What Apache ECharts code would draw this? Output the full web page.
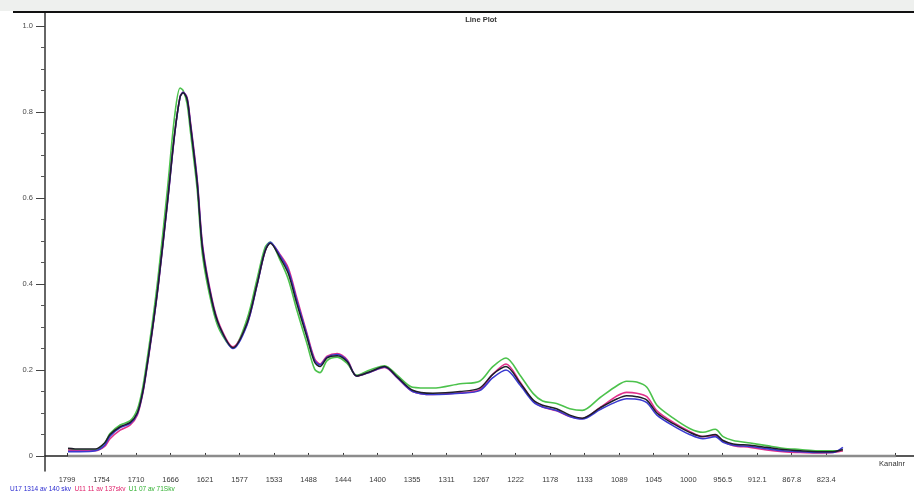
<!DOCTYPE html>
<html>
<head>
<meta charset="utf-8">
<script src="https://cdn.jsdelivr.net/npm/echarts@6/dist/echarts.min.js"></script>
<style>
html,body{margin:0;padding:0;background:#fff;}
#chart{width:914px;height:493px;}
</style>
</head>
<body>
<div id="chart"></div>
<script>
// ---- data ----
const wavenumbers = [1798,1783,1763,1751,1744,1731,1718,1709,1703,1699,1690,1682,1670,1661,1654,1650,1645,1641,1632,1625,1613,1603,1586,1568,1555,1545,1538,1526,1515,1504,1491,1481,1474,1465,1452,1439,1427,1410,1391,1375,1355,1329,1294,1269,1252,1235,1217,1200,1188,1170,1153,1137,1114,1092,1080,1067,1054,1041,1020,999,982,966,956,943,921,900,879,857,835,815,802];
const blackSeries = [0.018,0.016,0.016,0.030,0.050,0.068,0.078,0.100,0.140,0.180,0.290,0.400,0.595,0.750,0.835,0.845,0.830,0.775,0.635,0.480,0.360,0.300,0.252,0.309,0.400,0.475,0.495,0.463,0.425,0.355,0.277,0.218,0.208,0.228,0.233,0.219,0.186,0.196,0.208,0.184,0.153,0.146,0.150,0.158,0.190,0.208,0.170,0.130,0.118,0.110,0.095,0.088,0.112,0.133,0.140,0.138,0.130,0.100,0.075,0.055,0.045,0.050,0.036,0.028,0.025,0.020,0.015,0.012,0.010,0.010,0.015];
const blueSeries = [0.010,0.010,0.012,0.025,0.046,0.066,0.076,0.098,0.138,0.178,0.288,0.398,0.592,0.748,0.835,0.846,0.832,0.778,0.640,0.485,0.362,0.300,0.250,0.305,0.398,0.475,0.497,0.468,0.432,0.362,0.282,0.222,0.212,0.230,0.236,0.221,0.186,0.195,0.207,0.183,0.150,0.143,0.146,0.152,0.182,0.200,0.165,0.126,0.114,0.106,0.092,0.086,0.108,0.127,0.133,0.132,0.124,0.095,0.070,0.050,0.040,0.045,0.032,0.025,0.022,0.017,0.012,0.010,0.008,0.008,0.020];
const redSeries = [0.014,0.012,0.012,0.022,0.040,0.060,0.072,0.095,0.136,0.176,0.286,0.396,0.592,0.748,0.836,0.846,0.834,0.782,0.645,0.490,0.366,0.304,0.254,0.306,0.398,0.474,0.496,0.470,0.438,0.368,0.286,0.226,0.214,0.232,0.238,0.223,0.186,0.195,0.206,0.182,0.150,0.143,0.147,0.154,0.190,0.214,0.172,0.128,0.114,0.105,0.092,0.087,0.113,0.140,0.148,0.146,0.138,0.105,0.078,0.057,0.045,0.048,0.034,0.024,0.020,0.014,0.010,0.008,0.007,0.008,0.012];
const greenSeries = [0.014,0.014,0.014,0.030,0.052,0.072,0.082,0.108,0.150,0.192,0.305,0.420,0.625,0.790,0.856,0.850,0.820,0.760,0.620,0.465,0.350,0.292,0.252,0.318,0.412,0.484,0.498,0.458,0.412,0.340,0.262,0.202,0.194,0.222,0.230,0.215,0.188,0.200,0.210,0.188,0.160,0.158,0.168,0.174,0.208,0.228,0.188,0.145,0.128,0.122,0.110,0.106,0.136,0.164,0.174,0.172,0.160,0.118,0.088,0.064,0.055,0.062,0.045,0.036,0.030,0.024,0.018,0.015,0.012,0.012,0.012];
const baselineX = [1798, 734];
const baselineY = [0, 0];
const xTickValues = [1799.3,1754.9,1710.6,1666.2,1621.9,1577.5,1533.1,1488.8,1444.4,1400.1,1355.7,1311.3,1267.0,1222.6,1178.2,1133.9,1089.5,1045.2,1000.8,956.5,912.1,867.8,823.4];
const xTickLabels = ["1799","1754","1710","1666","1621","1577","1533","1488","1444","1400","1355","1311","1267","1222","1178","1133","1089","1045","1000","956.5","912.1","867.8","823.4"];
const yTickValues = [0,0.2,0.4,0.6,0.8,1.0];
const yTickLabels = ["0","0.2","0.4","0.6","0.8","1.0"];
const yMinorValues = [0.05,0.1,0.15,0.25,0.3,0.35,0.45,0.5,0.55,0.65,0.7,0.75,0.85,0.9,0.95];
const seriesNames = ["U17 1314 av 140 skv","U11 11 av 137skv","U1 07 av 71Skv","black"];
const titleText = "Line Plot";
const xAxisName = "Kanalnr";

function pairs(xs, ys){ return xs.map((x,i)=>[x, ys[i]]); }

const chart = echarts.init(document.getElementById('chart'), null, {renderer:'canvas'});
const FONT = 'Liberation Sans, Arial, sans-serif';
const option = {
  animation:false,
  backgroundColor:'#ffffff',
  grid:{left:45,right:0,top:12,bottom:22,containLabel:false},
  xAxis:[{
    type:'value', inverse:true, min:710.6, max:1827.6,
    axisLine:{show:true,lineStyle:{color:'#222',width:1.5}},
    axisTick:{show:true,inside:true,length:3,customValues:xTickValues.concat([735]),lineStyle:{color:'#333'}},
    axisLabel:{show:true,customValues:xTickValues,margin:5,fontSize:7.5,color:'#3a3a3a',fontFamily:FONT,
      formatter:function(v){ const i = xTickValues.findIndex(t=>Math.abs(t-v)<0.01); return i>=0 ? xTickLabels[i] : ''; }},
    splitLine:{show:false}
  }],
  yAxis:[{
    type:'value', min:-0.035, max:1.033,
    axisLine:{show:true,onZero:false,lineStyle:{color:'#333',width:1.5}},
    axisTick:{show:true,inside:false,length:9,customValues:yTickValues,lineStyle:{color:'#444'}},
    axisLabel:{show:true,customValues:yTickValues,margin:12,fontSize:7.5,color:'#4a4a4a',fontFamily:FONT,
      formatter:function(v){ const i = yTickValues.findIndex(t=>Math.abs(t-v)<1e-6); return i>=0 ? yTickLabels[i] : ''; }},
    splitLine:{show:false}
  },{
    type:'value', min:-0.035, max:1.033, position:'left',
    axisLine:{show:false},
    axisTick:{show:true,inside:false,length:4,customValues:yMinorValues,lineStyle:{color:'#555'}},
    axisLabel:{show:false},
    splitLine:{show:false}
  }],
  series:[
    {type:'line',name:'baseline',data:pairs(baselineX,baselineY),showSymbol:false,silent:true,z:1,
      lineStyle:{color:'#8c8c8c',width:2.5}},
    {type:'line',name:seriesNames[2],data:pairs(wavenumbers,greenSeries),showSymbol:false,smooth:0.3,z:2,
      lineStyle:{color:'#4cc24c',width:1.6}},
    {type:'line',name:seriesNames[1],data:pairs(wavenumbers,redSeries),showSymbol:false,smooth:0.3,z:3,
      lineStyle:{color:'#e0308c',width:1.6}},
    {type:'line',name:seriesNames[0],data:pairs(wavenumbers,blueSeries),showSymbol:false,smooth:0.3,z:4,
      lineStyle:{color:'#3a3ad0',width:1.6}},
    {type:'line',name:seriesNames[3],data:pairs(wavenumbers,blackSeries),showSymbol:false,smooth:0.3,z:5,
      lineStyle:{color:'#1e1e2a',width:1.5}}
  ],
  graphic:[
    {type:'rect',left:0,top:0,shape:{width:914,height:11},style:{fill:'#eef0ee'},z:0},
    {type:'line',shape:{x1:13,y1:12,x2:914,y2:12},style:{stroke:'#111',lineWidth:2},z:10},
    {type:'text',x:481,y:20,style:{text:titleText,fontSize:7.5,fontWeight:'bold',fill:'#333',align:'center',verticalAlign:'middle',fontFamily:FONT},z:10},
    {type:'text',x:892,y:464,style:{text:xAxisName,fontSize:7.5,fill:'#333',align:'center',verticalAlign:'middle',fontFamily:FONT},z:10},
    {type:'text',x:10,y:489,style:{
      rich:{b:{fill:'#2a2ad0',fontSize:6.5,fontFamily:FONT},r:{fill:'#e0206a',fontSize:6.5,fontFamily:FONT},g:{fill:'#30b030',fontSize:6.5,fontFamily:FONT}},
      text:'{b|'+seriesNames[0]+'} {r|'+seriesNames[1]+'} {g|'+seriesNames[2]+'}',verticalAlign:'middle'},z:10}
  ]
};
chart.setOption(option);
</script>
</body>
</html>
